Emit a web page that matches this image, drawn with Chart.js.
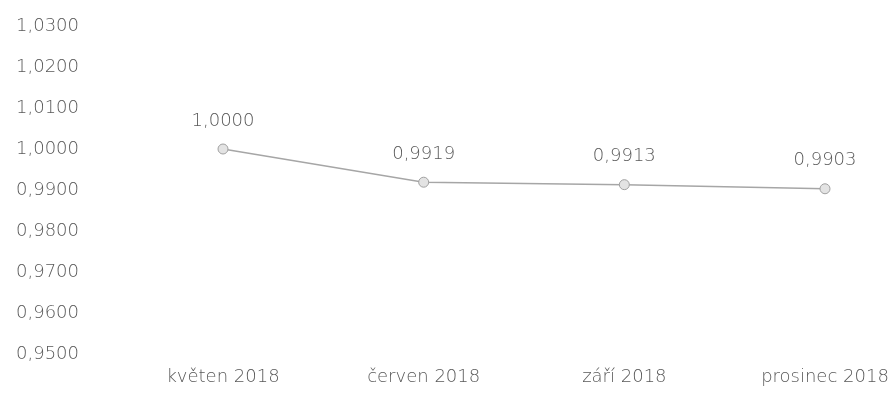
<!DOCTYPE html>
<html>
<head>
<meta charset="utf-8">
<script src="https://cdn.jsdelivr.net/npm/chart.js@4"></script>
<style>
  html, body { margin: 0; padding: 0; background: #fff; }
  #wrap { width: 893px; height: 396px; }
</style>
</head>
<body>
<div id="wrap"><canvas id="indexChart"></canvas></div>
<script>
// Index values by month
const months = ['květen 2018', 'červen 2018', 'září 2018', 'prosinec 2018'];
const indexValues = [1.0000, 0.9919, 0.9913, 0.9903];
const yMin = 0.95;
const yMax = 1.03;
const yStep = 0.01;

const textColor = '#595959';
const fontFamily = '"DejaVu Sans", "Open Sans", sans-serif';

function czNumber(v) {
    return v.toFixed(4).replace('.', ',');
}

// value labels above each point
const valueLabels = {
    id: 'valueLabels',
    afterDatasetsDraw(chart) {
        const ctx = chart.ctx;
        const meta = chart.getDatasetMeta(0);
        ctx.save();
        ctx.font = '200 18px ' + fontFamily;
        ctx.fillStyle = textColor;
        ctx.textAlign = 'center';
        ctx.textBaseline = 'middle';
        meta.data.forEach((pt, i) => {
            ctx.fillText(czNumber(indexValues[i]), pt.x, pt.y - 28);
        });
        ctx.restore();
    }
};

const ctx = document.getElementById('indexChart').getContext('2d');
const indexChart = new Chart(ctx, {
    type: 'line',
    data: {
        labels: months,
        datasets: [{
            data: indexValues,
            borderColor: '#a6a6a6',
            borderWidth: 1.5,
            pointRadius: 5,
            pointBackgroundColor: '#e3e3e3',
            pointBorderColor: '#a0a0a0',
            pointBorderWidth: 1,
            tension: 0,
        }]
    },
    options: {
        responsive: true,
        maintainAspectRatio: false,
        animation: false,
        layout: {
            padding: { top: 26, right: 68, bottom: 0, left: 16 }
        },
        plugins: {
            legend: { display: false },
            tooltip: { enabled: false }
        },
        scales: {
            x: {
                offset: false,
                grid: { display: false, drawTicks: false },
                border: { display: false },
                afterFit(axis) {
                    axis.height = 42;
                    // last label may run past the right edge
                    axis.paddingRight = 0;
                },
                ticks: {
                    padding: 13,
                    maxRotation: 0,
                    color: textColor,
                    font: { family: fontFamily, size: 18, weight: '200' }
                }
            },
            y: {
                min: yMin,
                max: yMax,
                grid: { display: false, drawTicks: false },
                border: { display: false },
                afterFit(axis) { axis.width = 207; },
                ticks: {
                    stepSize: yStep,
                    crossAlign: 'far',
                    color: textColor,
                    font: { family: fontFamily, size: 18, weight: '200' },
                    callback: (v) => czNumber(v)
                }
            }
        }
    },
    plugins: [valueLabels]
});
</script>
</body>
</html>
